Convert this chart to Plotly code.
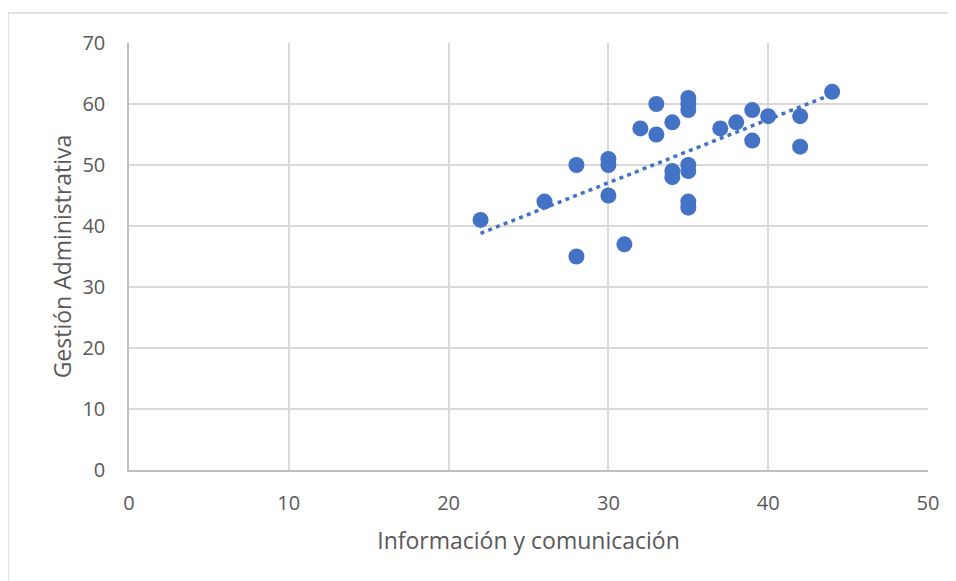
import plotly.graph_objects as go

# Data
info_comunicacion = [22, 26, 28, 28, 30, 30, 30, 31, 32, 33, 33, 34, 34, 34,
                     35, 35, 35, 35, 35, 35, 35, 37, 38, 39, 39, 40, 42, 42, 44]
gestion_admin = [41, 44, 50, 35, 51, 50, 45, 37, 56, 60, 55, 57, 49, 48,
                 61, 60, 59, 50, 49, 44, 43, 56, 57, 59, 54, 58, 58, 53, 62]

# Linear trendline ends
trend_x = [22, 44]
trend_y = [38.8, 61.6]

x_ticks = [0, 10, 20, 30, 40, 50]
y_ticks = [0, 10, 20, 30, 40, 50, 60, 70]

blue = "#4472C4"
font_name = "Open Sans"

fig = go.Figure()

fig.add_trace(
    go.Scatter(
        x=trend_x,
        y=trend_y,
        mode="lines",
        line=dict(color=blue, width=3.5, dash="4px,4.3px"),
        hoverinfo="skip",
        showlegend=False,
    )
)

fig.add_trace(
    go.Scatter(
        x=info_comunicacion,
        y=gestion_admin,
        mode="markers",
        marker=dict(color=blue, size=16, line=dict(width=0)),
        showlegend=False,
    )
)

# outer chart border (top and left visible in the reference)
fig.add_shape(type="line", xref="paper", yref="paper",
              x0=-0.1514, x1=1.04, y0=1.0703, y1=1.0703,
              line=dict(color="#D9D9D9", width=1.5))
fig.add_shape(type="line", xref="paper", yref="paper",
              x0=-0.1514, x1=-0.1514, y0=1.0703, y1=-0.27,
              line=dict(color="#D9D9D9", width=1.5))

# the page body adds an 8px margin, so the figure is sized/shifted for it
fig.update_layout(
    width=948,
    height=573,
    margin=dict(l=121, r=28, t=35, b=111),
    paper_bgcolor="white",
    plot_bgcolor="white",
    font=dict(family=font_name, color="#595959", size=20),
    xaxis=dict(
        range=[0, 50],
        tickvals=x_ticks,
        showgrid=True,
        gridcolor="#D9D9D9",
        gridwidth=1.5,
        zeroline=False,
        showline=True,
        linecolor="#BFBFBF",
        linewidth=1.5,
        ticks="",
        ticklabelstandoff=14,
        tickfont=dict(size=20, color="#595959"),
        title=dict(text="Información y comunicación",
                   font=dict(size=23, color="#595959"), standoff=18),
    ),
    yaxis=dict(
        range=[0, 70],
        tickvals=y_ticks,
        showgrid=True,
        gridcolor="#D9D9D9",
        gridwidth=1.5,
        zeroline=False,
        showline=True,
        linecolor="#BFBFBF",
        linewidth=1.5,
        ticks="",
        ticklabelstandoff=18,
        tickfont=dict(size=20, color="#595959"),
        title=dict(text="Gestión Administrativa",
                   font=dict(size=23, color="#595959"), standoff=4),
    ),
)

fig.write_html("out.html")
